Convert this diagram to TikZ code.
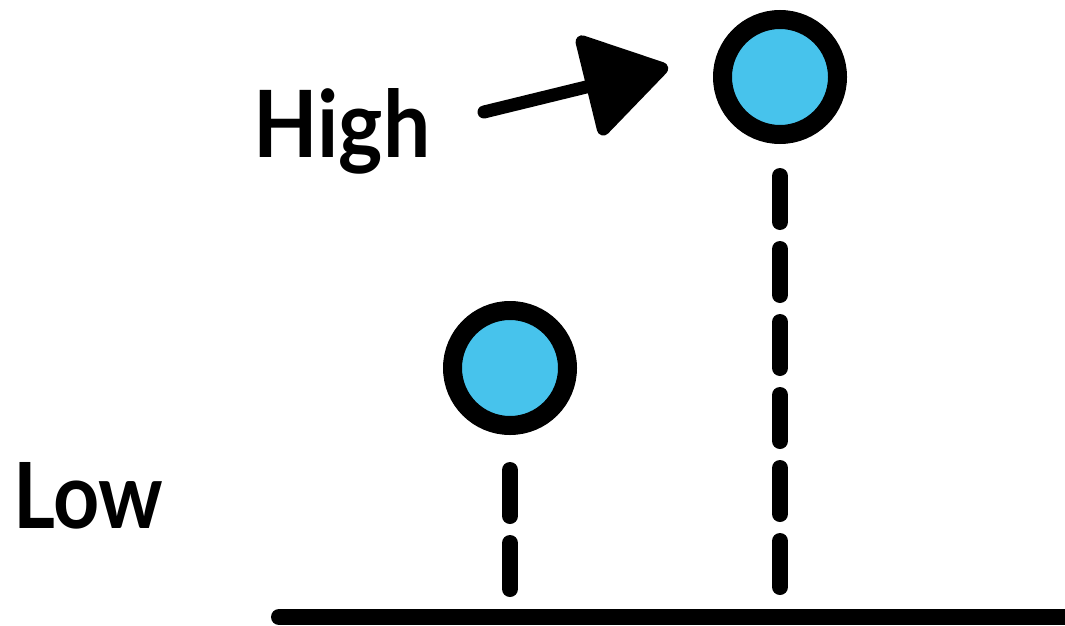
\documentclass[tikz,border=0pt]{standalone}
\usepackage{fontspec}
\setmainfont{Lato}
\usetikzlibrary{arrows.meta}
\definecolor{ballblue}{RGB}{71,195,236}
\tikzset{
  ball/.style={circle, draw=black, fill=ballblue, line width=19pt, minimum size=115pt, inner sep=0pt},
  dropline/.style={line width=16pt, line cap=round, dash pattern=on 46pt off 27pt},
  groundline/.style={line width=16pt, line cap=round},
  bigarrow/.style={line width=13pt, line cap=round, -{Triangle[length=90pt,width=110pt,round]}},
  lbl/.style={inner sep=0pt, anchor=base west, font=\bfseries}
}
\begin{document}
\begin{tikzpicture}[x=1pt,y=-1pt]
\useasboundingbox (0,0) rectangle (1065,626);
% ground
\coordinate (gl) at (279,617);
\coordinate (gr) at (1072,617);
\draw[groundline] (gl) -- (gr);
% balls
\node[ball] (lo) at (510,368) {};
\node[ball] (hi) at (780,77) {};
% drop lines
\coordinate (lotop) at (510,470);
\coordinate (lobot) at (510,589);
\coordinate (hitop) at (780,176);
\coordinate (hibot) at (780,587);
\draw[dropline] (lotop) -- (lobot);
\draw[dropline] (hitop) -- (hibot);
% labels
\node[lbl] (high) at (253,157) {\resizebox{177pt}{69pt}{High}};
\node[lbl] (low) at (13,528) {\resizebox{150pt}{66pt}{Low}};
% arrow
\coordinate (as) at (484,112);
\coordinate (at) at (668,67);
\draw[bigarrow] (as) -- (at);
\end{tikzpicture}
\end{document}
